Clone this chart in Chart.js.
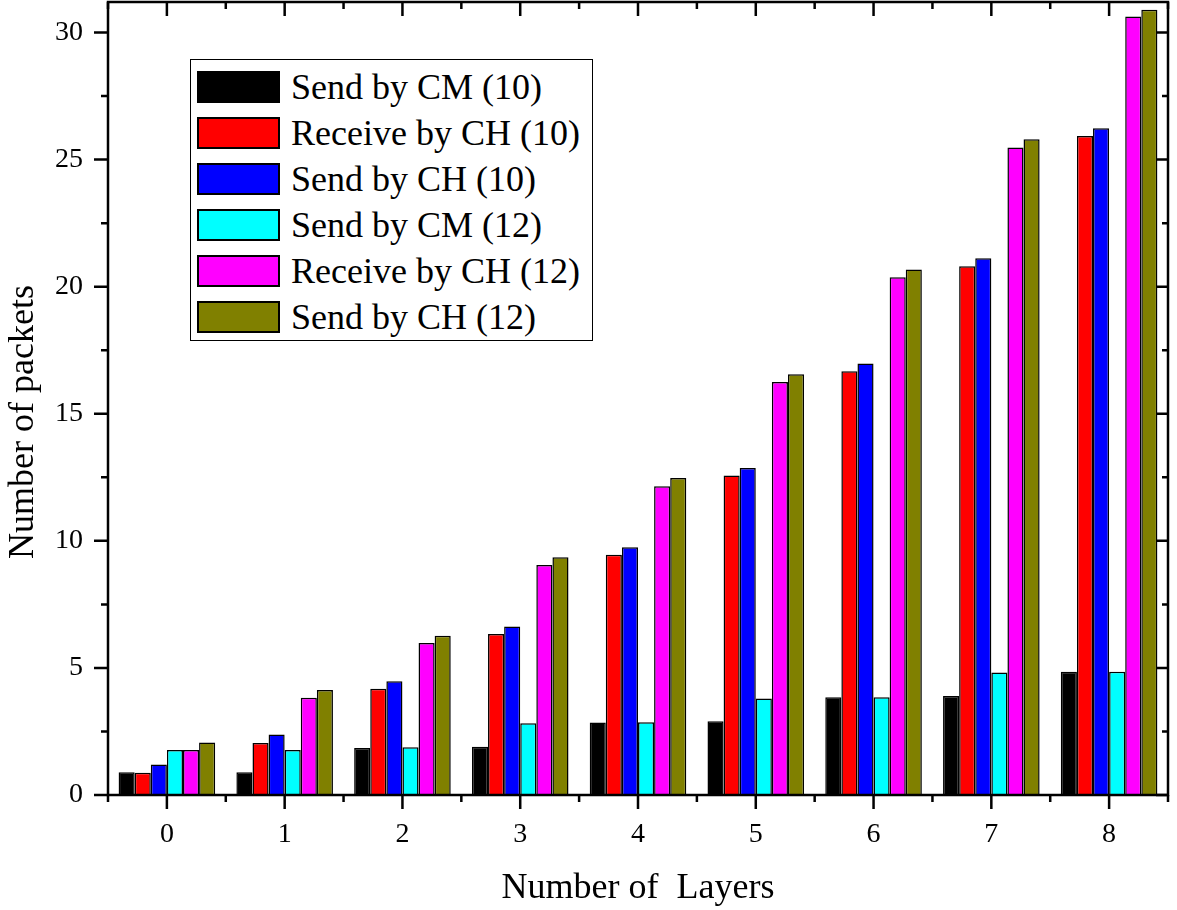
<!DOCTYPE html>
<html>
<head>
<meta charset="utf-8">
<script src="https://cdn.jsdelivr.net/npm/chart.js"></script>
<style>
  body { margin: 0; background: #fff; }
  #wrap { position: relative; width: 1177px; height: 910px; }
  #legend {
    position: absolute; left: 190px; top: 59px; width: 403px; height: 282px;
    box-sizing: border-box; border: 1.5px solid #000; background: #fff;
    font-family: "Liberation Serif", "Times New Roman", serif; font-size: 36px; color: #000;
  }
  .row { position: absolute; left: 6px; height: 32px; display: flex; align-items: center; }
  .sw { width: 83px; height: 32px; box-sizing: border-box; border: 2px solid #000; margin-right: 11px; }
  .lbl { white-space: nowrap; line-height: 32px; }
</style>
</head>
<body>
<div id="wrap">
  <canvas id="chart" width="1177" height="910"></canvas>
  <div id="legend"></div>
</div>
<script>
// layers on the x axis
const layers = ['0', '1', '2', '3', '4', '5', '6', '7', '8'];

// packets per layer
const sendCM10 = [0.9, 0.9, 1.85, 1.9, 2.85, 2.9, 3.85, 3.9, 4.85];
const recvCH10 = [0.88, 2.05, 4.18, 6.33, 9.45, 12.57, 16.67, 20.8, 25.93];
const sendCH10 = [1.2, 2.38, 4.48, 6.63, 9.75, 12.87, 16.98, 21.12, 26.23];
const sendCM12 = [1.77, 1.77, 1.88, 2.82, 2.86, 3.8, 3.85, 4.82, 4.85];
const recvCH12 = [1.77, 3.83, 5.98, 9.05, 12.15, 16.25, 20.37, 25.48, 30.63];
const sendCH12 = [2.07, 4.13, 6.27, 9.35, 12.47, 16.55, 20.68, 25.8, 30.9];

const seriesNames = ['Send by CM (10)', 'Receive by CH (10)', 'Send by CH (10)',
                     'Send by CM (12)', 'Receive by CH (12)', 'Send by CH (12)'];
const seriesData = [sendCM10, recvCH10, sendCH10, sendCM12, recvCH12, sendCH12];
const colors = ['#000000', '#ff0000', '#0000ff', '#00ffff', '#ff00ff', '#808000'];

const serif = '"Liberation Serif", "Times New Roman", serif';

// frame, Origin style ticks and the y title
const framePlugin = {
  id: 'frame',
  afterDraw(chart) {
    const ctx = chart.ctx;
    const a = chart.chartArea;
    const x = chart.scales.x, y = chart.scales.y;
    ctx.save();
    ctx.strokeStyle = '#000';
    ctx.lineWidth = 2.5;
    ctx.strokeRect(a.left, a.top, a.right - a.left, a.bottom - a.top);

    ctx.beginPath();
    // y ticks: major every 5, minor in between
    for (let v = 0; v <= y.max; v += 2.5) {
      const py = y.getPixelForValue(v);
      const major = v % 5 === 0;
      ctx.moveTo(a.left - (major ? 14 : 7), py);
      ctx.lineTo(a.left, py);
      ctx.moveTo(a.right - (major ? 12 : 6), py);
      ctx.lineTo(a.right, py);
    }
    // x ticks: major at the layers, minor on the boundaries
    const half = (x.getPixelForValue(1) - x.getPixelForValue(0)) / 2;
    layers.forEach((l, i) => {
      const px = x.getPixelForValue(i);
      ctx.moveTo(px, a.bottom); ctx.lineTo(px, a.bottom + 14);
      ctx.moveTo(px, a.top); ctx.lineTo(px, a.top + 14);
      [px - half, px + half].forEach(bx => {
        ctx.moveTo(bx, a.bottom); ctx.lineTo(bx, a.bottom + 7);
        ctx.moveTo(bx, a.top); ctx.lineTo(bx, a.top + 7);
      });
    });
    ctx.stroke();

    ctx.fillStyle = '#000';
    ctx.font = '36px ' + serif;
    ctx.textAlign = 'center';
    ctx.textBaseline = 'middle';
    ctx.translate(24, 422);
    ctx.rotate(-Math.PI / 2);
    ctx.fillText('Number of packets', 0, 0);
    ctx.restore();
  }
};

new Chart(document.getElementById('chart'), {
  type: 'bar',
  data: {
    labels: layers,
    datasets: seriesData.map((d, i) => ({
      label: seriesNames[i],
      data: d,
      backgroundColor: colors[i],
      borderColor: '#000',
      borderWidth: 1.5,
      categoryPercentage: 0.82,
      barPercentage: 1.0
    }))
  },
  options: {
    responsive: false,
    animation: false,
    layout: { padding: { top: 2, right: 9, left: 0, bottom: 0 } },
    plugins: { legend: { display: false }, tooltip: { enabled: false } },
    scales: {
      x: {
        grid: { display: false, drawTicks: false },
        border: { display: false },
        ticks: { color: '#000', font: { family: serif, size: 28 }, padding: 23 },
        title: {
          display: true, text: 'Number of  Layers', color: '#000',
          font: { family: serif, size: 36, lineHeight: 1.2 }, padding: 0
        },
        afterFit(scale) { scale.height = 115; scale.paddingLeft = 0; scale.paddingRight = 0; }
      },
      y: {
        min: 0,
        max: 31.2,
        grid: { display: false, drawTicks: false },
        border: { display: false },
        ticks: {
          stepSize: 5, includeBounds: false, color: '#000',
          font: { family: serif, size: 28 }, padding: 25
        },
        afterFit(scale) { scale.width = 108; scale.paddingTop = 0; scale.paddingBottom = 0; }
      }
    }
  },
  plugins: [framePlugin]
});

// legend box inside the plot
const legend = document.getElementById('legend');
seriesNames.forEach((name, i) => {
  const row = document.createElement('div');
  row.className = 'row';
  row.style.top = (11 + 46 * i) + 'px';
  row.innerHTML = `<div class="sw" style="background:${colors[i]}"></div><span class="lbl">${name}</span>`;
  legend.appendChild(row);
});
</script>
</body>
</html>
